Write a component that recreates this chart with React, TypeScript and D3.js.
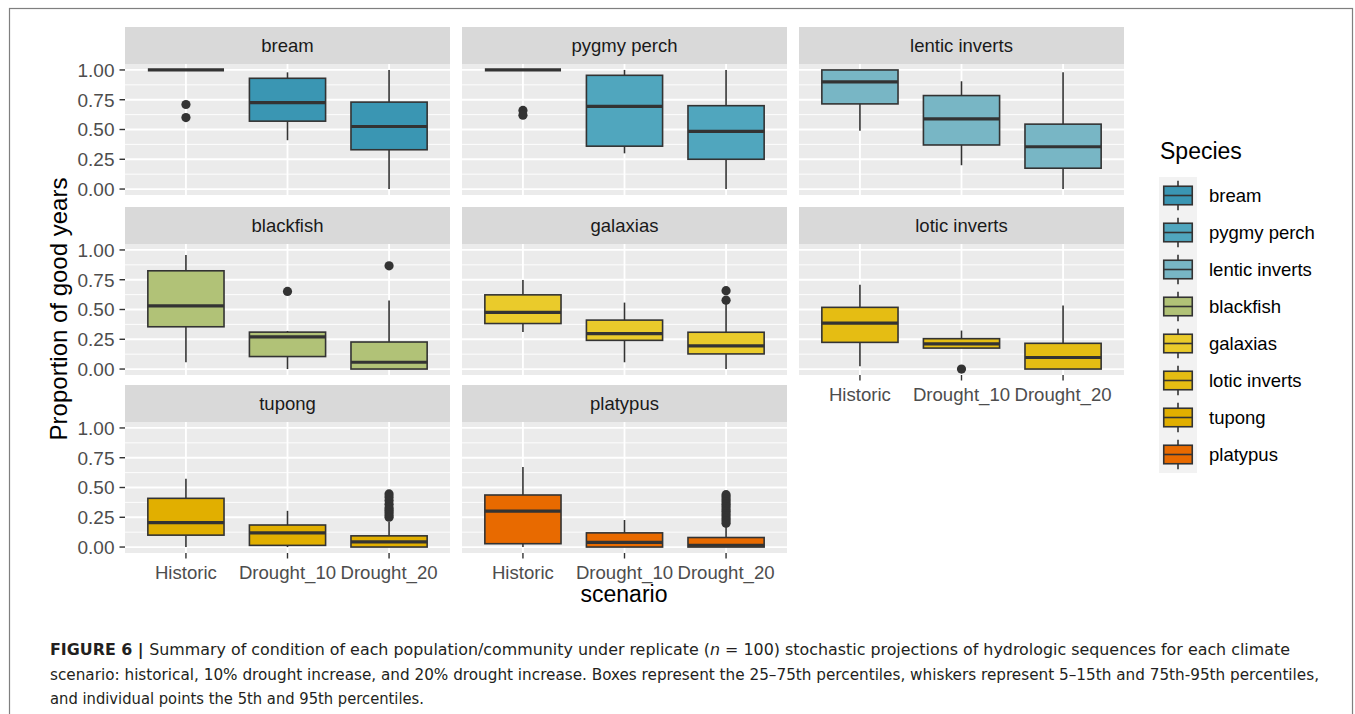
import React from "react";
import * as d3 from "d3";

// facet order, row by row
const species = [
  "bream",
  "pygmy perch",
  "lentic inverts",
  "blackfish",
  "galaxias",
  "lotic inverts",
  "tupong",
  "platypus",
];
const scenarios = ["Historic", "Drought_10", "Drought_20"];
const fills = [
  "#3A96B3",
  "#50A6BE",
  "#78B6C5",
  "#B1C277",
  "#EACB2B",
  "#E5BD13",
  "#E1AF00",
  "#E86A00",
];
const yTicks = [0, 0.25, 0.5, 0.75, 1];
const yMinor = [0.125, 0.375, 0.625, 0.875];

// [lower whisker, q1, median, q3, upper whisker] for Historic, Drought_10, Drought_20
const bream = [
  [1, 1, 1, 1, 1],
  [0.41, 0.57, 0.725, 0.93, 0.98],
  [0, 0.33, 0.525, 0.73, 1],
];
const pygmyPerch = [
  [1, 1, 1, 1, 1],
  [0.3, 0.36, 0.695, 0.955, 1],
  [0, 0.25, 0.485, 0.7, 1],
];
const lenticInverts = [
  [0.49, 0.715, 0.9, 1, 1],
  [0.2, 0.37, 0.59, 0.785, 0.905],
  [0, 0.175, 0.355, 0.545, 0.98],
];
const blackfish = [
  [0.057, 0.355, 0.53, 0.825, 0.957],
  [0, 0.105, 0.27, 0.31, 0.32],
  [0, 0, 0.057, 0.227, 0.575],
];
const galaxias = [
  [0.312, 0.382, 0.476, 0.623, 0.748],
  [0.057, 0.241, 0.297, 0.411, 0.558],
  [0, 0.127, 0.195, 0.309, 0.55],
];
const loticInverts = [
  [0.023, 0.224, 0.386, 0.518, 0.708],
  [0.176, 0.176, 0.212, 0.255, 0.323],
  [0, 0, 0.097, 0.216, 0.533],
];
const tupong = [
  [0, 0.1, 0.205, 0.409, 0.574],
  [0, 0.014, 0.119, 0.185, 0.304],
  [0, 0, 0.043, 0.094, 0.213],
];
const platypus = [
  [0, 0.028, 0.301, 0.437, 0.673],
  [0, 0, 0.04, 0.119, 0.227],
  [0, 0, 0.015, 0.08, 0.17],
];

// individual points
const breamOut = [[0.71, 0.6], [], []];
const pygmyPerchOut = [[0.66, 0.62], [], []];
const lenticInvertsOut = [[], [], []];
const blackfishOut = [[], [0.652], [0.867]];
const galaxiasOut = [[], [], [0.658, 0.578]];
const loticInvertsOut = [[], [0], []];
const tupongOut = [[], [], [0.446, 0.42, 0.39, 0.36, 0.33, 0.31, 0.29, 0.27, 0.25]];
const platypusOut = [
  [],
  [],
  [0.44, 0.42, 0.4, 0.38, 0.36, 0.34, 0.32, 0.3, 0.28, 0.26, 0.24, 0.22, 0.2],
];

const stats = [bream, pygmyPerch, lenticInverts, blackfish, galaxias, loticInverts, tupong, platypus];
const outliers = [
  breamOut,
  pygmyPerchOut,
  lenticInvertsOut,
  blackfishOut,
  galaxiasOut,
  loticInvertsOut,
  tupongOut,
  platypusOut,
];

const FONT = "'Liberation Sans', Arial, Helvetica, sans-serif";
const W = 1355;
const H = 714;

// panel layout
const colX = [125, 462, 799];
const panelW = 325;
const stripTop = [27, 207, 385];
const stripH = 37;
const panelH = 131;

const x = d3.scaleLinear().domain([0.4, 3.6]).range([0, panelW]);
const y = d3.scaleLinear().domain([-0.05, 1.05]).range([panelH, 0]);
const fmt = d3.format(".2f");

const ink = "#333333";

function Panel({ i }: { i: number }) {
  const col = i % 3;
  const row = Math.floor(i / 3);
  const px = colX[col];
  const py = stripTop[row] + stripH;
  const boxW = x(0.75) - x(0);
  // x axis under the bottom row, and under lotic inverts (nothing below it)
  const showX = row === 2 || i === 5;
  return (
    <g>
      <rect x={px} y={stripTop[row]} width={panelW} height={stripH} fill="#D9D9D9" />
      <text
        x={px + panelW / 2}
        y={stripTop[row] + stripH / 2}
        dy="0.35em"
        textAnchor="middle"
        fontSize={18.5}
        fill="#1A1A1A"
      >
        {species[i]}
      </text>
      <g transform={`translate(${px},${py})`}>
        <rect width={panelW} height={panelH} fill="#EBEBEB" />
        {yMinor.map((t) => (
          <line key={"m" + t} x1={0} x2={panelW} y1={y(t)} y2={y(t)} stroke="#fff" strokeWidth={0.9} />
        ))}
        {yTicks.map((t) => (
          <line key={"M" + t} x1={0} x2={panelW} y1={y(t)} y2={y(t)} stroke="#fff" strokeWidth={1.8} />
        ))}
        {scenarios.map((s, k) => (
          <line key={s} x1={x(k + 1)} x2={x(k + 1)} y1={0} y2={panelH} stroke="#fff" strokeWidth={1.8} />
        ))}
        {stats[i].map((d, k) => {
          const cx = x(k + 1);
          const [lo, q1, med, q3, hi] = d;
          return (
            <g key={k}>
              <line x1={cx} x2={cx} y1={y(q3)} y2={y(hi)} stroke={ink} strokeWidth={1.6} />
              <line x1={cx} x2={cx} y1={y(q1)} y2={y(lo)} stroke={ink} strokeWidth={1.6} />
              <rect
                x={cx - boxW / 2}
                y={y(q3)}
                width={boxW}
                height={y(q1) - y(q3)}
                fill={fills[i]}
                stroke={ink}
                strokeWidth={1.6}
              />
              <line
                x1={cx - boxW / 2}
                x2={cx + boxW / 2}
                y1={y(med)}
                y2={y(med)}
                stroke={ink}
                strokeWidth={3.2}
              />
              {outliers[i][k].map((v, j) => (
                <circle key={j} cx={cx} cy={y(v)} r={4.6} fill={ink} />
              ))}
            </g>
          );
        })}
        {col === 0 &&
          yTicks.map((t) => (
            <g key={"yt" + t}>
              <line x1={-5.5} x2={0} y1={y(t)} y2={y(t)} stroke={ink} strokeWidth={1.4} />
              <text x={-10.5} y={y(t)} dy="0.36em" textAnchor="end" fontSize={19} fill="#4D4D4D">
                {fmt(t)}
              </text>
            </g>
          ))}
        {showX &&
          scenarios.map((s, k) => (
            <g key={"xt" + s}>
              <line x1={x(k + 1)} x2={x(k + 1)} y1={panelH} y2={panelH + 5.5} stroke={ink} strokeWidth={1.4} />
              <text x={x(k + 1)} y={panelH + 25.5} textAnchor="middle" fontSize={18.6} fill="#4D4D4D">
                {s}
              </text>
            </g>
          ))}
      </g>
    </g>
  );
}

function Legend() {
  const keyX = 1159;
  const keyW = 38;
  const band = d3.scaleBand().domain(species).range([177, 473]);
  const kh = band.bandwidth();
  const cx = keyX + keyW / 2;
  return (
    <g>
      <text x={1160} y={159} fontSize={23} fill="#000">
        Species
      </text>
      <rect x={keyX} y={177} width={keyW} height={473 - 177} fill="#F2F2F2" />
      {species.map((s, i) => {
        const ky = band(s) as number;
        return (
          <g key={s}>
            <line x1={cx} x2={cx} y1={ky + kh * 0.1} y2={ky + kh * 0.9} stroke={ink} strokeWidth={1.6} />
            <rect
              x={keyX + keyW * 0.125}
              y={ky + kh * 0.25}
              width={keyW * 0.75}
              height={kh * 0.5}
              fill={fills[i]}
              stroke={ink}
              strokeWidth={1.6}
            />
            <line
              x1={keyX + keyW * 0.125}
              x2={keyX + keyW * 0.875}
              y1={ky + kh / 2}
              y2={ky + kh / 2}
              stroke={ink}
              strokeWidth={1.6}
            />
            <text x={1209} y={ky + kh / 2} dy="0.35em" fontSize={18.5} fill="#000">
              {s}
            </text>
          </g>
        );
      })}
    </g>
  );
}

export default function App() {
  const capFont = "'Liberation Sans Narrow', 'DejaVu Sans Condensed', 'Liberation Sans', sans-serif";
  return (
    <svg
      width={W}
      height={H}
      style={{ position: "absolute", left: 0, top: 0, background: "#fff" }}
      fontFamily={FONT}
    >
      <rect x={9.5} y={8.5} width={1343} height={720} fill="none" stroke="#7F7F7F" strokeWidth={1.2} />
      {species.map((s, i) => (
        <Panel key={s} i={i} />
      ))}
      <text
        transform={`translate(67,309) rotate(-90)`}
        textAnchor="middle"
        fontSize={24}
        fill="#000"
      >
        Proportion of good years
      </text>
      <text x={624} y={602} textAnchor="middle" fontSize={23} fill="#000">
        scenario
      </text>
      <Legend />
      <g fontFamily={capFont} fontSize={15.5} fill="#231F20">
        <text x={50} y={655} textLength={1240} lengthAdjust="spacingAndGlyphs">
          <tspan fontWeight="bold">FIGURE 6 | </tspan>
          <tspan>Summary of condition of each population/community under replicate (</tspan>
          <tspan fontStyle="italic">n</tspan>
          <tspan> = 100) stochastic projections of hydrologic sequences for each climate</tspan>
        </text>
        <text x={50} y={680} textLength={1269} lengthAdjust="spacingAndGlyphs">
          scenario: historical, 10% drought increase, and 20% drought increase. Boxes represent the 25–75th
          percentiles, whiskers represent 5–15th and 75th-95th percentiles,
        </text>
        <text x={50} y={704} textLength={374} lengthAdjust="spacingAndGlyphs">
          and individual points the 5th and 95th percentiles.
        </text>
      </g>
    </svg>
  );
}
